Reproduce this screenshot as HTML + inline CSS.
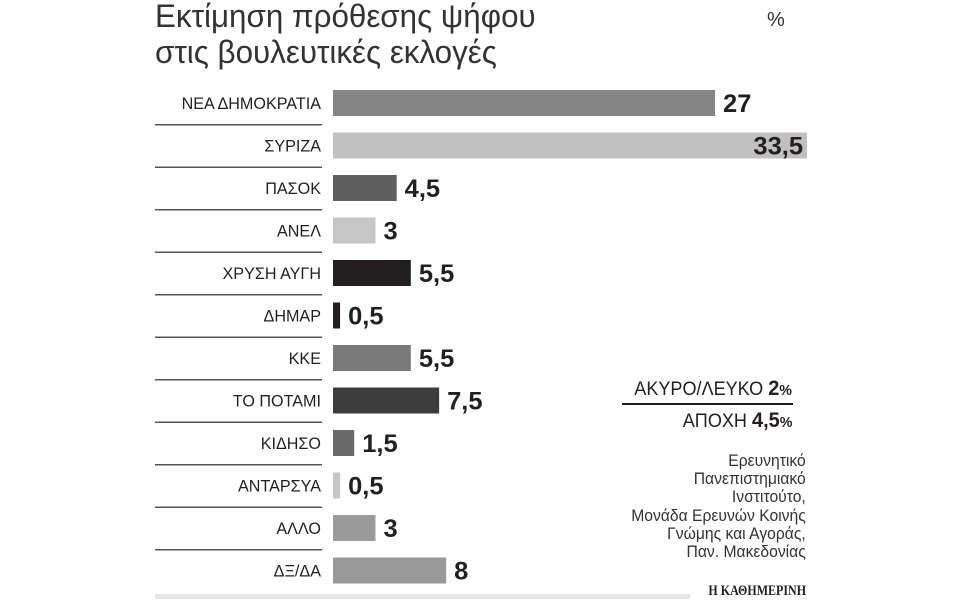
<!DOCTYPE html>
<html><head><meta charset="utf-8"><style>
body{margin:0;background:#fff;width:960px;height:600px;overflow:hidden;position:relative;font-family:"Liberation Sans","DejaVu Sans",sans-serif;color:#231f20}
.t{position:absolute;white-space:nowrap}
.n{transform-origin:right center;transform:scaleX(0.95)}
.nl{transform-origin:left center;transform:scaleX(0.98)}
</style></head><body>
<div class="t nl" style="left:155px;top:-2px;font-size:32px;line-height:36px;color:#333">Εκτίμηση πρόθεσης ψήφου<br>στις βουλευτικές εκλογές</div>
<div class="t" style="left:767px;top:9px;font-size:20px;color:#333">%</div>
<svg id="c" width="960" height="600" style="position:absolute;left:0;top:0"></svg>
<div class="t n" style="right:168px;top:377px;font-size:19px">ΑΚΥΡΟ/ΛΕΥΚΟ <b style="font-size:21px">2</b><b style="font-size:15px">%</b></div>
<div style="position:absolute;left:622px;top:403px;width:171px;height:2px;background:#231f20"></div>
<div class="t n" style="right:168px;top:409px;font-size:19px">ΑΠΟΧΗ <b style="font-size:21px">4,5</b><b style="font-size:15px">%</b></div>
<div class="t n" style="right:154px;top:452px;font-size:16.5px;line-height:18.2px;text-align:right;color:#333">Ερευνητικό<br>Πανεπιστημιακό<br>Ινστιτούτο,<br>Μονάδα Ερευνών Κοινής<br>Γνώμης και Αγοράς,<br>Παν. Μακεδονίας</div>
<div style="position:absolute;left:155px;top:594px;width:535px;height:5px;background:#e6e6e6"></div>
<div class="t" style="right:154px;top:583px;font-size:15px;font-family:'Liberation Serif',serif;font-weight:bold;transform-origin:right center;transform:scaleX(0.8)">Η ΚΑΘΗΜΕΡΙΝΗ</div>
<script>
const parties=["ΝΕΑ ΔΗΜΟΚΡΑΤΙΑ","ΣΥΡΙΖΑ","ΠΑΣΟΚ","ΑΝΕΛ","ΧΡΥΣΗ ΑΥΓΗ","ΔΗΜΑΡ","ΚΚΕ","ΤΟ ΠΟΤΑΜΙ","ΚΙΔΗΣΟ","ΑΝΤΑΡΣΥΑ","ΑΛΛΟ","ΔΞ/ΔΑ"];
const values=[27,33.5,4.5,3,5.5,0.5,5.5,7.5,1.5,0.5,3,8];
const valueLabels=["27","33,5","4,5","3","5,5","0,5","5,5","7,5","1,5","0,5","3","8"];
const colors=["#858585","#c0c0c0","#5e5e5e","#c6c6c6","#231f20","#231f20","#7a7a7a","#3d3d3d","#6a6a6a","#c6c6c6","#9a9a9a","#999999"];
const svg=document.getElementById('c');const NS="http://www.w3.org/2000/svg";
const x0=333,xs=14.15,y0=103,step=42.5,bh=26;
const x=v=>x0+v*xs, y=i=>y0+i*step;
function mk(t,a){const e=document.createElementNS(NS,t);for(const k in a)e.setAttribute(k,a[k]);svg.appendChild(e);return e;}
parties.forEach((p,i)=>{
 const r=mk('rect',{x:x0,y:y(i)-bh/2,width:Math.max(values[i]*xs,3),height:bh,fill:colors[i]});
 
 
 const l=mk('text',{x:321,y:y(i)+6,'text-anchor':'end','font-size':17,fill:'#231f20',transform:`translate(321 0) scale(0.95 1) translate(-321 0)`});
 l.textContent=p;
 
 
 const inside=values[i]>30;
 const vx=inside?x(values[i])-4:x0+Math.max(values[i]*xs,3)+8;
 const v=mk('text',{x:vx,y:y(i)+9,'text-anchor':inside?'end':'start','font-size':25,'font-weight':'bold',fill:'#231f20',transform:`translate(${vx} 0) scale(1.02 1) translate(${-vx} 0)`});
 v.textContent=valueLabels[i];
 
 
 if(i<parties.length-1){const s=mk('rect',{x:155,y:y(i)+21,width:167,height:1.5,fill:'#555'});
 
 }
});
</script>
</body></html>
